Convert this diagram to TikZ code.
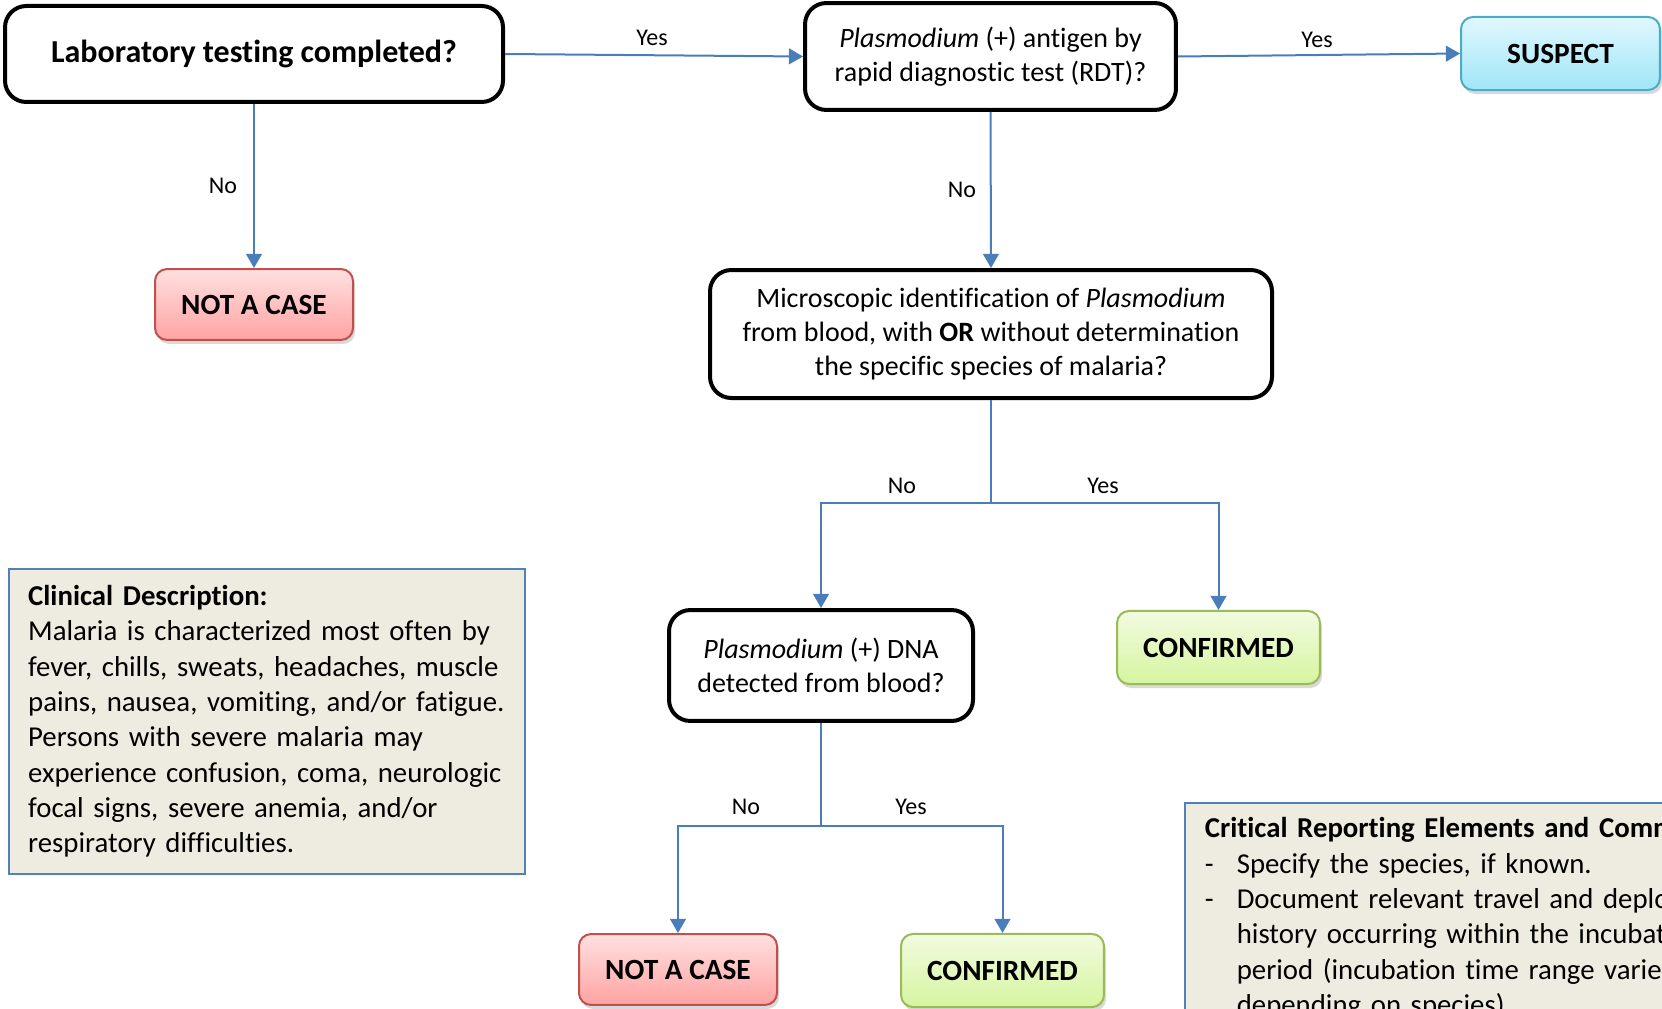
\documentclass[tikz,border=0pt]{standalone}
\usepackage{fontspec}
\setmainfont{Carlito}[Ligatures=NoCommon]
\usepackage{xcolor}
\usetikzlibrary{arrows.meta,shadows}
\definecolor{flowblue}{RGB}{74,126,187}
\definecolor{notefill}{RGB}{238,236,225}
\definecolor{noteline}{RGB}{79,129,189}
\definecolor{suspTop}{RGB}{224,248,254}
\definecolor{suspBot}{RGB}{160,230,248}
\definecolor{suspLine}{RGB}{75,172,198}
\definecolor{noTop}{RGB}{255,224,224}
\definecolor{noBot}{RGB}{255,163,163}
\definecolor{noLine}{RGB}{192,80,77}
\definecolor{okTop}{RGB}{242,251,224}
\definecolor{okBot}{RGB}{213,245,160}
\definecolor{okLine}{RGB}{155,187,89}

\tikzset{
    question/.style={draw=black, line width=1.5pt, rounded corners=8pt, fill=white,
        align=center, inner sep=0pt, font=\fontsize{10.5pt}{12.7pt}\selectfont},
    outcome/.style={line width=0.75pt, rounded corners=4.5pt, align=center, inner sep=0pt,
        font=\fontsize{11pt}{13pt}\selectfont\bfseries,
        drop shadow={opacity=0.3, shadow xshift=0.8pt, shadow yshift=-1.5pt}},
    suspectbox/.style={outcome, draw=suspLine, top color=suspTop, bottom color=suspBot,
        minimum width=74.6pt, minimum height=27.4pt},
    notcasebox/.style={outcome, draw=noLine, top color=noTop, bottom color=noBot,
        minimum width=74.25pt, minimum height=26.6pt},
    confirmedbox/.style={outcome, draw=okLine, top color=okTop, bottom color=okBot,
        minimum width=76.1pt, minimum height=27.4pt},
    notebox/.style={draw=noteline, line width=0.6pt, fill=notefill, align=left,
        font=\fontsize{10.8pt}{13.25pt}\selectfont\frenchspacing},
    answer/.style={inner sep=0pt, font=\fontsize{9pt}{11pt}\selectfont},
    arrowline/.style={draw=flowblue, line width=0.75pt},
    arrowtip/.style={arrowline, -{Triangle[length=5.3pt,width=5.9pt]}}
}

\begin{document}
\begin{tikzpicture}[x=0.375pt,y=-0.375pt]
    \useasboundingbox (0,0) rectangle (1662,1009);
    \clip (0,0) rectangle (1662,1009);

    % questions
    \node[question, minimum width=186.75pt, minimum height=36pt,
        font=\fontsize{12pt}{14pt}\selectfont\bfseries] (lab) at (254,54) {Laboratory testing completed?};
    \node[question, minimum width=139.1pt, minimum height=40.1pt] (rdt) at (990.5,56.5)
        {\textit{Plasmodium} (+) antigen by\\rapid diagnostic test (RDT)?};
    \node[question, minimum width=210.75pt, minimum height=48pt] (micro) at (991,334)
        {Microscopic identification of \textit{Plasmodium}\\from blood, with \textbf{OR} without determination\\the specific species of malaria?};
    \node[question, minimum width=114pt, minimum height=41.6pt] (dna) at (821,665.5)
        {\textit{Plasmodium} (+) DNA\\detected from blood?};

    % outcomes
    \node[suspectbox] (suspect) at (1560.5,53.5) {SUSPECT};
    \node[notcasebox] (notcaseA) at (254,304.5) {NOT A CASE};
    \node[confirmedbox] (confirmedA) at (1218.5,647.5) {CONFIRMED};
    \node[notcasebox] (notcaseB) at (678,969.5) {NOT A CASE};
    \node[confirmedbox] (confirmedB) at (1002.5,970.5) {CONFIRMED};

    % notes
    \node[notebox, anchor=north west, text width=179pt, inner xsep=7.25pt, inner ysep=0pt,
        minimum height=114.4pt] (clinical) at (8,568)
        {\mbox{\textbf{Clinical Description:}}\\
         \mbox{Malaria is characterized most often by}\\
         \mbox{fever, chills, sweats, headaches, muscle}\\
         \mbox{pains, nausea, vomiting, and/or fatigue.}\\
         \mbox{Persons with severe malaria may}\\
         \mbox{experience confusion, coma, neurologic}\\
         \mbox{focal signs, severe anemia, and/or}\\
         \mbox{respiratory difficulties.}};
    \node[notebox, anchor=north west, text width=260pt, inner xsep=7.5pt, inner ysep=5.5pt] (critical) at (1184,802)
        {\mbox{\textbf{Critical Reporting Elements and Comments:}}\\
         \makebox[12pt][l]{-}\mbox{Specify the species, if known.}\\
         \makebox[12pt][l]{-}\mbox{Document relevant travel and deployment}\\
         \hspace*{12pt}\mbox{history occurring within the incubation}\\
         \hspace*{12pt}\mbox{period (incubation time range varies}\\
         \hspace*{12pt}\mbox{depending on species).}};

    % connectors
    \coordinate (splitA) at (micro.south |- 0,503);
    \coordinate (splitB) at (dna.south |- 0,826);
    \draw[arrowtip] (lab.east) -- (rdt.west);
    \draw[arrowtip] (rdt.east) -- (suspect.west);
    \draw[arrowtip] (lab.south) -- (notcaseA.north);
    \draw[arrowtip] (rdt.south) -- (micro.north);
    \draw[arrowline] (micro.south) -- (splitA);
    \draw[arrowtip] (splitA) -| (dna.north);
    \draw[arrowtip] (splitA) -| (confirmedA.north);
    \draw[arrowline] (dna.south) -- (splitB);
    \draw[arrowtip] (splitB) -| (notcaseB.north);
    \draw[arrowtip] (splitB) -| (confirmedB.north);

    % answers
    \foreach \lname/\lx/\ly/\ltext in {yesA/652/38/Yes, yesB/1317/40/Yes, noA/223/186/No, noB/962/190/No,
        noC/902/486/No, yesC/1103/486/Yes, noD/746/807/No, yesD/911/807/Yes}
        \node[answer] (\lname) at (\lx,\ly) {\ltext};
\end{tikzpicture}
\end{document}
